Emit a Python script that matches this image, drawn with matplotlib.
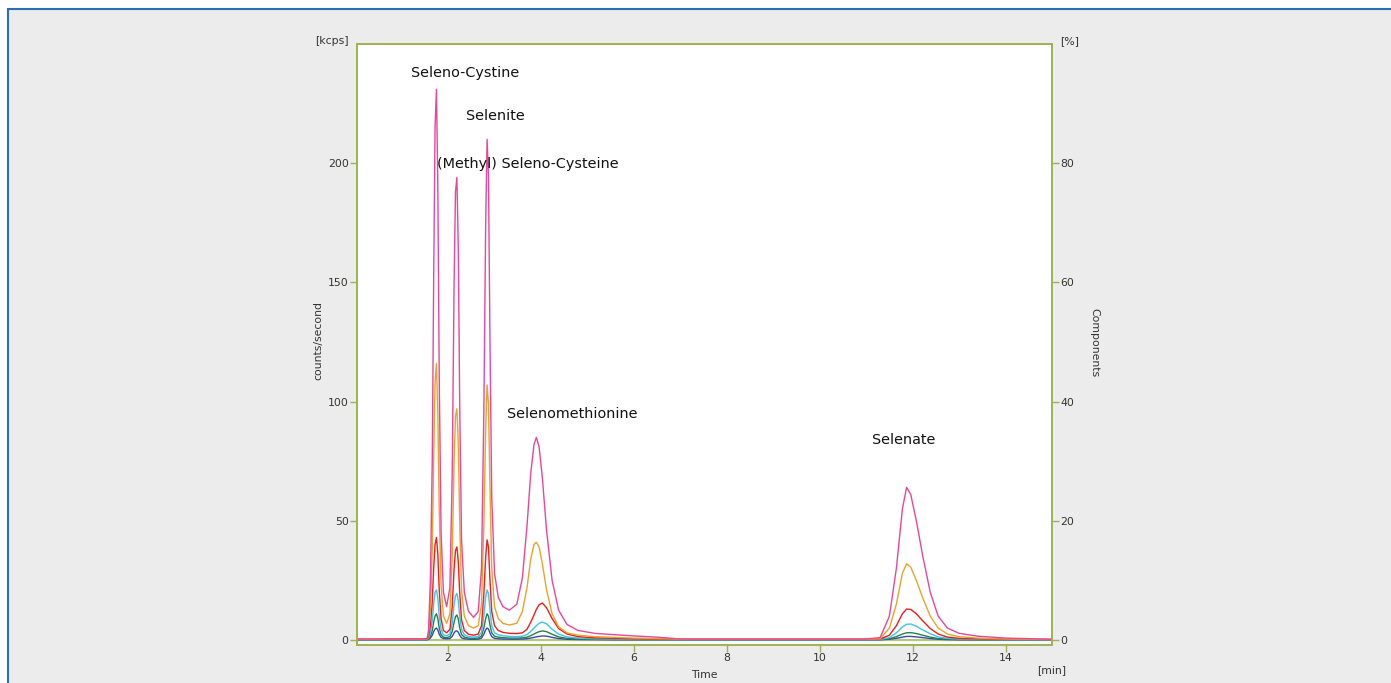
import matplotlib
matplotlib.use("Agg")
import matplotlib.pyplot as plt
from matplotlib.patches import Rectangle

# retention time grid [min]
time_min = [0.05, 1.55, 1.58, 1.62, 1.66, 1.69, 1.72, 1.75, 1.78, 1.81,
            1.85, 1.90, 1.97, 2.04, 2.09, 2.13, 2.16, 2.19, 2.22, 2.25,
            2.29, 2.35, 2.44, 2.55, 2.65, 2.72, 2.77, 2.81, 2.84, 2.87,
            2.90, 2.94, 3.00, 3.08, 3.18, 3.32, 3.48, 3.60, 3.70, 3.78,
            3.85, 3.90, 3.96, 4.03, 4.12, 4.24, 4.38, 4.56, 4.80, 5.15,
            5.60, 6.00, 6.50, 7.00, 11.00, 11.30, 11.50, 11.65, 11.78, 11.87,
            11.96, 12.08, 12.22, 12.38, 12.55, 12.75, 13.00, 13.40, 14.00, 15.00]

# counts/second [kcps], one list per trace
pink = [0.4, 0.5, 4, 25, 75, 150, 215, 231, 190, 110,
        45, 20, 14, 22, 70, 150, 188, 194, 165, 100,
        42, 20, 12, 9.5, 12, 30, 95, 175, 210, 195,
        130, 60, 28, 18, 14, 12.5, 15, 26, 48, 70,
        82, 85, 81, 68, 46, 25, 12.5, 6.5, 4, 2.8,
        2.2, 1.7, 1.2, 0.4, 0.4, 1, 10, 30, 55, 64,
        61, 50, 35, 20, 10, 5, 2.8, 1.6, 0.8, 0.3]
orange = [0.3, 0.4, 3, 13, 38, 76, 108, 116, 95, 55,
          23, 10, 7, 11, 35, 75, 94, 97, 83, 50,
          21, 10, 6, 5, 6, 15, 48, 89, 107, 99,
          66, 30, 14, 9, 7, 6.3, 7, 12, 22, 34,
          40, 41, 39, 32, 21, 11, 5.5, 3, 2, 1.4,
          1.1, 0.8, 0.6, 0.3, 0.3, 0.5, 5, 15, 28, 32,
          30.5, 25, 17.5, 10, 5, 2.5, 1.4, 0.8, 0.4, 0.2]
red = [0.3, 0.3, 1.5, 6, 16, 30, 40, 43, 36, 21,
       9, 4, 3, 4.5, 14, 30, 37.5, 39, 33, 20,
       8.5, 4, 2.4, 2, 2.5, 6, 19, 35, 42, 39,
       26, 12, 6, 4, 3.2, 2.8, 2.7, 3, 4.5, 7.5,
       10.5, 12.8, 14.8, 15.5, 13.5, 9, 4.8, 2.5, 1.4, 0.9,
       0.7, 0.5, 0.4, 0.3, 0.3, 0.4, 2, 6, 11, 13,
       12.8, 11, 8, 4.8, 2.5, 1.2, 0.7, 0.5, 0.3, 0.2]
cyan = [0.2, 0.2, 0.8, 3, 8, 15, 20, 21, 17.5, 10,
        4.5, 2.2, 1.8, 2.5, 7, 15, 18.5, 19.5, 16.5, 10,
        4.5, 2.2, 1.4, 1.2, 1.5, 3.2, 10, 18, 21, 19.5,
        13, 6, 3, 2.2, 1.8, 1.5, 1.4, 1.6, 2.3, 3.6,
        5, 6, 7, 7.5, 6.8, 4.5, 2.5, 1.3, 0.8, 0.5,
        0.4, 0.3, 0.2, 0.2, 0.2, 0.2, 1, 3, 5.5, 6.6,
        6.7, 5.8, 4.2, 2.6, 1.3, 0.7, 0.4, 0.3, 0.2, 0.1]
green = [0.15, 0.15, 0.5, 1.5, 4, 7.5, 10, 11, 9, 5,
         2.2, 1.2, 1, 1.4, 3.6, 7.5, 9.8, 10.5, 8.8, 5.2,
         2.3, 1.2, 0.8, 0.7, 0.8, 1.7, 5, 9, 11, 10,
         6.5, 3, 1.6, 1.2, 1, 0.8, 0.8, 0.9, 1.2, 1.8,
         2.5, 3, 3.5, 3.8, 3.5, 2.4, 1.3, 0.7, 0.4, 0.3,
         0.2, 0.2, 0.15, 0.15, 0.15, 0.15, 0.5, 1.4, 2.5, 3,
         3.1, 2.7, 2, 1.2, 0.6, 0.35, 0.2, 0.15, 0.1, 0.1]
blue = [0.1, 0.1, 0.3, 0.8, 2, 3.5, 4.6, 5, 4.2, 2.4,
        1.1, 0.6, 0.5, 0.6, 1.5, 3, 3.7, 3.8, 3.3, 2,
        0.9, 0.5, 0.35, 0.3, 0.35, 0.8, 2.4, 4.3, 5, 4.6,
        3, 1.4, 0.7, 0.5, 0.4, 0.35, 0.35, 0.4, 0.55, 0.8,
        1.1, 1.3, 1.5, 1.7, 1.6, 1.1, 0.6, 0.3, 0.2, 0.15,
        0.1, 0.1, 0.1, 0.1, 0.1, 0.1, 0.3, 0.7, 1.2, 1.5,
        1.5, 1.3, 1, 0.6, 0.3, 0.15, 0.1, 0.1, 0.1, 0.1]

peak_names = ["Seleno-Cystine", "Selenite", "(Methyl) Seleno-Cysteine",
              "Selenomethionine", "Selenate"]
peak_label_x = [2.36, 3.01, 3.72, 4.68, 11.81]
peak_label_y = [238, 220, 199.5, 95, 84]

W, H = 1391, 683
olive = '#9db253'
txt = '#333333'

fig = plt.figure(figsize=(W / 100, H / 100), dpi=100)
fig.patch.set_facecolor('white')
fig.patches.append(Rectangle((8 / W, -0.02), 1.05, 1 - 9 / H + 0.02,
                             transform=fig.transFigure, facecolor='#ebeceb',
                             edgecolor='#2c6cb8', linewidth=1.5, zorder=-10))

ax = fig.add_axes([357 / W, 1 - 645 / H, (1052 - 357) / W, (645 - 44) / H])
ax.set_facecolor('white')

ax.plot(time_min, [0] * len(time_min), color='#b5c77a', lw=1.6)
ax.plot(time_min, blue, color='#3a48a8', lw=1)
ax.plot(time_min, green, color='#23804a', lw=1)
ax.plot(time_min, cyan, color='#3cc4ec', lw=1)
ax.plot(time_min, red, color='#ee1c1c', lw=1)
ax.plot(time_min, orange, color='#e8a42a', lw=1)
ax.plot(time_min, pink, color='#e6469c', lw=1)

for name, x, y in zip(peak_names, peak_label_x, peak_label_y):
    ax.text(x, y, name, ha='center', va='center', fontsize=10.4, color='#111111')

ax.set_xlim(0.04, 15)
ax.set_ylim(-2.1, 250)
ax.set_xticks([2, 4, 6, 8, 10, 12, 14])
ax.set_yticks([0, 50, 100, 150, 200])

ax2 = ax.twinx()
ax2.set_ylim(-2.1 / 2.5, 250 / 2.5)
ax2.set_yticks([0, 20, 40, 60, 80])

for a in (ax, ax2):
    for s in a.spines.values():
        s.set_color(olive)
        s.set_linewidth(1.2)
    a.tick_params(colors=olive, labelcolor=txt, labelsize=7.8, length=5,
                  width=1, direction='out', pad=1)

def ftext(x, y, s, **kw):
    fig.text(x / W, 1 - y / H, s, color=txt, fontsize=7.8, **kw)

ftext(349, 41, '[kcps]', ha='right', va='center')
ftext(1060, 41, '[%]', ha='left', va='center')
ftext(1052, 670, '[min]', ha='center', va='center')
ftext(704, 675, 'Time', ha='center', va='center')
ftext(318, 340, 'counts/second', ha='center', va='center', rotation=90)
ftext(1094, 343, 'Components', ha='center', va='center', rotation=-90)

fig.savefig('out.png', dpi=100)
